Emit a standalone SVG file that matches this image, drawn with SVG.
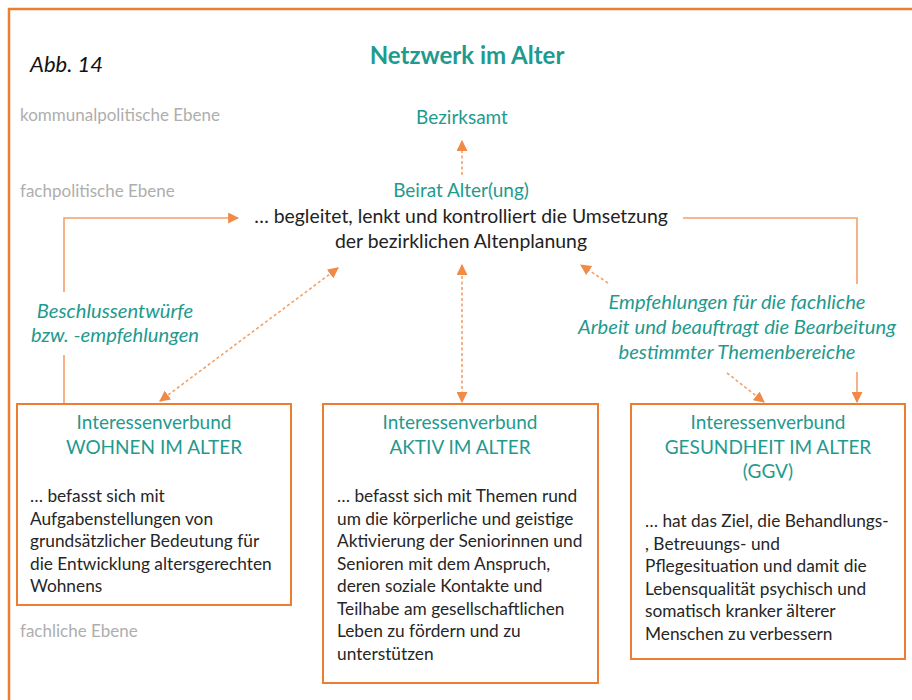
<svg xmlns="http://www.w3.org/2000/svg" width="912" height="700" viewBox="0 0 912 700">
<defs>
<marker id="ah" viewBox="0 0 10 10" refX="9" refY="5" markerWidth="11" markerHeight="11" markerUnits="userSpaceOnUse" orient="auto-start-reverse">
<path d="M0,0 L10,5 L0,10 z" fill="#F08A46"/>
</marker>
<style>
text{font-family:Lato,"Open Sans","Liberation Sans",sans-serif}
.teal{fill:#1F9A8F}
.body{fill:#262626;font-size:17.3px}
.lvl{fill:#AEAEAE;font-size:17px}
.hd{fill:#1F9A8F;font-size:19px;text-anchor:middle}
.it{font-style:italic;fill:#1F9A8F;font-size:20.2px;text-anchor:middle}
.box{fill:#fff;stroke:#ED7D31;stroke-width:2}
.solid{fill:none;stroke:#F4A06A;stroke-width:1.6}
.dot{fill:none;stroke:#F4A06A;stroke-width:1.6;stroke-dasharray:3 2.5}
</style>
</defs>
<rect width="912" height="700" fill="#fff"/>
<path d="M9,700 V9 H912" fill="none" stroke="#ED7D31" stroke-width="2.5"/>

<text x="30" y="72" font-size="22" font-style="italic" fill="#111">Abb. 14</text>
<text x="467" y="64" font-size="24" font-weight="bold" class="teal" text-anchor="middle">Netzwerk im Alter</text>

<g id="levels">
<text class="lvl" x="20" y="121">kommunalpolitische Ebene</text>
<text class="lvl" x="20" y="197">fachpolitische Ebene</text>
<text class="lvl" x="20" y="637">fachliche Ebene</text>
</g>

<g id="connectors">
<path class="solid" d="M64,404 V218 H238" marker-end="url(#ah)"/>
<path class="solid" d="M683,218 H857 V402" marker-end="url(#ah)"/>
<path class="dot" d="M462,175 V141" marker-end="url(#ah)"/>
<path class="dot" d="M338,268 L160,401" marker-start="url(#ah)" marker-end="url(#ah)"/>
<path class="dot" d="M462,265 V402" marker-start="url(#ah)" marker-end="url(#ah)"/>
<path class="dot" d="M608,283 L581,265" marker-end="url(#ah)"/>
<path class="dot" d="M727,373 L764,402" marker-end="url(#ah)"/>
</g>

<g id="bezirksamt">
<text class="hd" x="462" y="124" font-size="18.7">Bezirksamt</text>
</g>

<g id="beirat">
<text class="hd" x="461" y="197" font-size="19.5">Beirat Alter(ung)</text>
<text x="461" y="223" font-size="19.4" fill="#222" text-anchor="middle">… begleitet, lenkt und kontrolliert die Umsetzung</text>
<text x="461" y="248" font-size="19.4" fill="#222" text-anchor="middle">der bezirklichen Altenplanung</text>
</g>

<g id="label-left">
<rect x="18" y="292" width="198" height="63" fill="#fff"/>
<text class="it" x="115" y="318">Beschlussentwürfe</text>
<text class="it" x="115" y="342">bzw. -empfehlungen</text>
</g>

<g id="label-right">
<rect x="565" y="284" width="347" height="88" fill="#fff"/>
<text class="it" x="737" y="309">Empfehlungen für die fachliche</text>
<text class="it" x="737" y="334">Arbeit und beauftragt die Bearbeitung</text>
<text class="it" x="737" y="359">bestimmter Themenbereiche</text>
</g>

<g id="wohnen">
<rect class="box" x="17" y="404" width="274" height="201"/>
<text class="hd" x="154" y="429">Interessenverbund</text>
<text class="hd" x="154" y="454">WOHNEN IM ALTER</text>
<text class="body" x="30" y="502">… befasst sich mit</text>
<text class="body" x="30" y="525">Aufgabenstellungen von</text>
<text class="body" x="30" y="547">grundsätzlicher Bedeutung für</text>
<text class="body" x="30" y="570">die Entwicklung altersgerechten</text>
<text class="body" x="30" y="592">Wohnens</text>
</g>

<g id="aktiv">
<rect class="box" x="323" y="404" width="275" height="279"/>
<text class="hd" x="460" y="429">Interessenverbund</text>
<text class="hd" x="460" y="454">AKTIV IM ALTER</text>
<text class="body" x="337" y="502">… befasst sich mit Themen rund</text>
<text class="body" x="337" y="525">um die körperliche und geistige</text>
<text class="body" x="337" y="547">Aktivierung der Seniorinnen und</text>
<text class="body" x="337" y="570">Senioren mit dem Anspruch,</text>
<text class="body" x="337" y="592">deren soziale Kontakte und</text>
<text class="body" x="337" y="615">Teilhabe am gesellschaftlichen</text>
<text class="body" x="337" y="637">Leben zu fördern und zu</text>
<text class="body" x="337" y="660">unterstützen</text>
</g>

<g id="gesundheit">
<rect class="box" x="631" y="404" width="274" height="255"/>
<text class="hd" x="768" y="429">Interessenverbund</text>
<text class="hd" x="768" y="454">GESUNDHEIT IM ALTER</text>
<text class="hd" x="768" y="478">(GGV)</text>
<text class="body" x="645" y="527">… hat das Ziel, die Behandlungs-</text>
<text class="body" x="645" y="550">, Betreuungs- und</text>
<text class="body" x="645" y="572">Pflegesituation und damit die</text>
<text class="body" x="645" y="595">Lebensqualität psychisch und</text>
<text class="body" x="645" y="617">somatisch kranker älterer</text>
<text class="body" x="645" y="640">Menschen zu verbessern</text>
</g>
</svg>
